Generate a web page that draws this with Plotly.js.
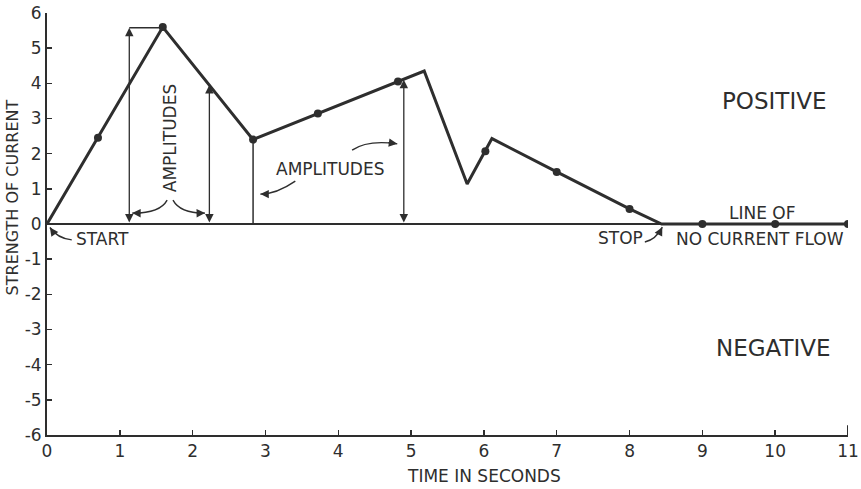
<!DOCTYPE html>
<html>
<head>
<meta charset="utf-8">
<script src="https://cdn.plot.ly/plotly-3.0.1.min.js"></script>
<style>html,body{margin:0;padding:0;background:#fff;}#chart{width:861px;height:489px;}</style>
</head>
<body>
<div id="chart"></div>
<script>
// Current waveform (seconds, strength)
var waveX = [0, 0.7, 1.59, 2.83, 3.72, 4.82, 5.18, 5.77, 6.02, 6.11, 7.0, 8.0, 8.44, 9, 10, 11];
var waveY = [0, 2.45, 5.6, 2.4, 3.14, 4.05, 4.35, 1.14, 2.07, 2.43, 1.48, 0.43, 0, 0, 0, 0];
// Plotted dots
var dotX = [0.7, 1.59, 2.83, 3.72, 4.82, 6.02, 7.0, 8.0, 9, 10, 11];
var dotY = [2.45, 5.6, 2.4, 3.14, 4.05, 2.07, 1.48, 0.43, 0, 0, 0];
// Amplitude markers: x position, top value
var ampX = [1.13, 2.23, 4.9];
var ampTop = [5.58, 3.95, 4.1];
var valleyX = 2.83, valleyTop = 2.4;
// Tick labels
var xTicks = [0,1,2,3,4,5,6,7,8,9,10,11];
var yTicks = [-6,-5,-4,-3,-2,-1,0,1,2,3,4,5,6];
var yTickText = ['-6','-5','-4','-3','-2','-1','0','1','2','3','4','5','6'];

var ink = '#2e2e2e';
var fnt = 'DejaVu Sans, sans-serif';

var traces = [
  {x: waveX, y: waveY, type: 'scatter', mode: 'lines', line: {color: ink, width: 3}, hoverinfo: 'skip'},
  {x: dotX, y: dotY, type: 'scatter', mode: 'markers', marker: {color: ink, size: 8}, hoverinfo: 'skip'}
];

var shapes = [];
var annotations = [];

// amplitude double arrows
for (var i = 0; i < ampX.length; i++) {
  annotations.push({x: ampX[i], y: ampTop[i], ax: ampX[i], ay: 0, xref: 'x', yref: 'y', axref: 'x', ayref: 'y',
    text: '', showarrow: true, arrowhead: 2, arrowside: 'end+start', arrowsize: 1.3, arrowwidth: 1.3, arrowcolor: ink});
}
// top horizontal at first amplitude
shapes.push({type: 'line', xref: 'x', yref: 'y', x0: ampX[0], x1: waveX[2], y0: ampTop[0], y1: ampTop[0], line: {color: ink, width: 1.5}});
// valley vertical
shapes.push({type: 'line', xref: 'x', yref: 'y', x0: valleyX, x1: valleyX, y0: 0, y1: valleyTop, line: {color: ink, width: 1.5}});
// end tick at 11
shapes.push({type: 'line', xref: 'x', yref: 'y', x0: 11, x1: 11, y0: -6, y1: -5.72, line: {color: ink, width: 2}});

// curved pointer arrows: [startX, startY, ctrlX, ctrlY, endX, endY]
var curves = [
  [1.65, 0.68, 1.55, 0.30, 1.17, 0.31],
  [1.73, 0.68, 1.83, 0.30, 2.17, 0.31],
  [3.41, 1.22, 3.15, 0.85, 2.93, 0.85],
  [4.19, 2.10, 4.40, 2.40, 4.81, 2.28],
  [0.34, -0.45, 0.15, -0.42, 0.04, -0.10],
  [8.21, -0.51, 8.36, -0.45, 8.45, -0.09]
];
curves.forEach(function (c) {
  shapes.push({type: 'path', xref: 'x', yref: 'y',
    path: 'M ' + c[0] + ',' + c[1] + ' Q ' + c[2] + ',' + c[3] + ' ' + c[4] + ',' + c[5],
    line: {color: ink, width: 1.4}});
  annotations.push({x: c[4], y: c[5], ax: c[4] + 0.35 * (c[2] - c[4]), ay: c[5] + 0.35 * (c[3] - c[5]),
    xref: 'x', yref: 'y', axref: 'x', ayref: 'y', text: '', showarrow: true,
    arrowhead: 2, arrowsize: 1.3, arrowwidth: 1.3, arrowcolor: ink});
});

function label(t, x, y, size, angle) {
  annotations.push({x: x, y: y, xref: 'x', yref: 'y', text: t, showarrow: false, textangle: angle || 0,
    font: {family: fnt, size: size, color: ink}, xanchor: 'center', yanchor: 'middle'});
}
label('AMPLITUDES', 1.69, 2.44, 17, -90);
label('AMPLITUDES', 3.88, 1.56, 17);
label('START', 0.76, -0.44, 17);
label('STOP', 7.88, -0.40, 17);
label('LINE OF', 9.83, 0.31, 17);
label('NO CURRENT FLOW', 9.79, -0.43, 17);
label('POSITIVE', 9.99, 3.51, 23);
label('NEGATIVE', 9.97, -3.53, 23);

// axis titles (paper-referenced so they sit outside the plot area)
annotations.push({x: -0.043, y: 0.562, xref: 'paper', yref: 'paper', text: 'STRENGTH OF CURRENT', showarrow: false, textangle: -90,
  font: {family: fnt, size: 16, color: ink}, xanchor: 'center', yanchor: 'middle'});
annotations.push({x: 0.546, y: -0.097, xref: 'paper', yref: 'paper', text: 'TIME IN SECONDS', showarrow: false,
  font: {family: fnt, size: 17, color: ink}, xanchor: 'center', yanchor: 'middle'});

var layout = {
  width: 861, height: 489,
  margin: {l: 47, r: 13, t: 13, b: 54},
  paper_bgcolor: '#fff', plot_bgcolor: '#fff',
  showlegend: false,
  xaxis: {range: [0, 11], tickvals: xTicks, ticktext: xTicks.map(String), showgrid: false, zeroline: false,
    showline: true, linecolor: ink, linewidth: 2, ticks: 'inside', ticklen: 5, tickwidth: 1.5, tickcolor: ink,
    tickfont: {family: fnt, size: 17, color: ink}, fixedrange: true},
  yaxis: {range: [-6, 6], tickvals: yTicks, ticktext: yTickText, showgrid: false,
    zeroline: true, zerolinecolor: ink, zerolinewidth: 2,
    showline: true, linecolor: ink, linewidth: 2, ticks: 'inside', ticklen: 5, tickwidth: 1.5, tickcolor: ink,
    tickfont: {family: fnt, size: 17, color: ink}, fixedrange: true},
  shapes: shapes,
  annotations: annotations
};

Plotly.newPlot('chart', traces, layout, {displayModeBar: false, staticPlot: true});
</script>
</body>
</html>
